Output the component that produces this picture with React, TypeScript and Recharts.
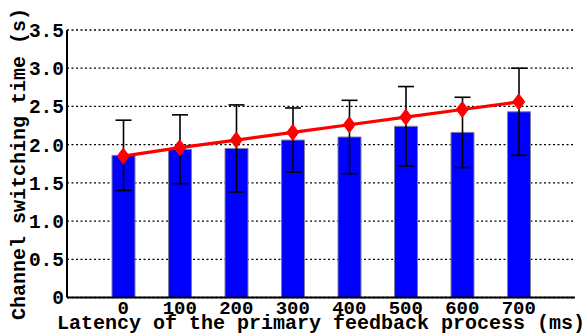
import React from 'react';
import {
  ComposedChart,
  Bar,
  Line,
  ErrorBar,
  XAxis,
  YAxis,
  CartesianGrid,
  Label,
} from 'recharts';

const latencies = ['0', '100', '200', '300', '400', '500', '600', '700'];
const switchTime = [1.86, 1.94, 1.95, 2.06, 2.1, 2.24, 2.16, 2.43];
const switchErr = [0.46, 0.45, 0.57, 0.42, 0.48, 0.52, 0.46, 0.57];
const trend = [1.85, 1.96, 2.06, 2.16, 2.26, 2.36, 2.46, 2.56];
const yTicks = [0, 0.5, 1, 1.5, 2, 2.5, 3, 3.5];

const rows = latencies.map((l, i) => ({
  latency: l,
  time: switchTime[i],
  err: switchErr[i],
  trend: trend[i],
}));

const FONT = '"Liberation Mono", "DejaVu Sans Mono", monospace';

const Diamond = (props: any) => {
  const { cx, cy } = props;
  if (cx == null || cy == null) return null;
  return (
    <polygon
      points={`${cx},${cy - 8} ${cx + 6},${cy} ${cx},${cy + 8} ${cx - 6},${cy}`}
      fill="#ff0000"
      stroke="#ff0000"
    />
  );
};

const noTick = () => <g />;

export default function App() {
  return (
    <div style={{ position: 'absolute', left: 0, top: 0, background: '#fff' }}>
      <ComposedChart
        width={587}
        height={333}
        data={rows}
        margin={{ top: 30, right: 12, bottom: 0, left: 0 }}
      >
        <CartesianGrid vertical={false} stroke="#000" strokeWidth={1.3} strokeDasharray="2 2.5" />
        <XAxis
          dataKey="latency"
          height={35.5}
          padding={{ left: 28, right: 28 }}
          axisLine={{ stroke: '#000', strokeWidth: 2 }}
          tickLine={false}
          tickSize={0}
          tickMargin={3}
          interval={0}
          tick={{ fill: '#000', fontFamily: FONT, fontSize: 19, fontWeight: 'bold' }}
        >
          <Label
            content={() => (
              <text
                x={321}
                y={328.5}
                textAnchor="middle"
                fontFamily={FONT}
                fontSize={20}
                fontWeight="bold"
                fill="#000"
              >
                Latency of the primary feedback process (ms)
              </text>
            )}
          />
        </XAxis>
        <XAxis
          xAxisId="top"
          dataKey="latency"
          orientation="top"
          height={0}
          mirror
          padding={{ left: 28, right: 28 }}
          axisLine={{ stroke: '#000', strokeWidth: 2 }}
          tickLine={{ stroke: '#000', strokeWidth: 1.3 }}
          tickSize={4}
          interval={0}
          tick={noTick}
        />
        <YAxis
          domain={[0, 3.5]}
          ticks={yTicks}
          width={67}
          axisLine={{ stroke: '#000', strokeWidth: 2 }}
          tickLine={false}
          tickSize={0}
          tickMargin={3}
          tickFormatter={(v: number) => (v === 0 ? '0' : v.toFixed(1))}
          tick={{ fill: '#000', fontFamily: FONT, fontSize: 19.5, fontWeight: 'bold' }}
        >
          <Label
            content={() => (
              <text
                x={24.5}
                y={164}
                transform="rotate(-90 24.5 164)"
                textAnchor="middle"
                fontFamily={FONT}
                fontSize={20}
                fontWeight="bold"
                fill="#000"
              >
                Channel switching time (s)
              </text>
            )}
          />
        </YAxis>
        <YAxis
          yAxisId="right"
          orientation="right"
          domain={[0, 3.5]}
          ticks={yTicks}
          width={0}
          mirror
          axisLine={{ stroke: '#000', strokeWidth: 2 }}
          tickLine={{ stroke: '#000', strokeWidth: 1.3 }}
          tickSize={4}
          tick={noTick}
        />
        <Bar
          dataKey="time"
          barSize={23}
          fill="#0000ff"
          stroke="#7f7f9f"
          strokeWidth={1}
          isAnimationActive={false}
        >
          <ErrorBar dataKey="err" width={8} stroke="#000" strokeWidth={1.6} />
        </Bar>
        <Line
          dataKey="trend"
          stroke="#ff0000"
          strokeWidth={3.2}
          dot={<Diamond />}
          activeDot={false}
          isAnimationActive={false}
        />
      </ComposedChart>
    </div>
  );
}
